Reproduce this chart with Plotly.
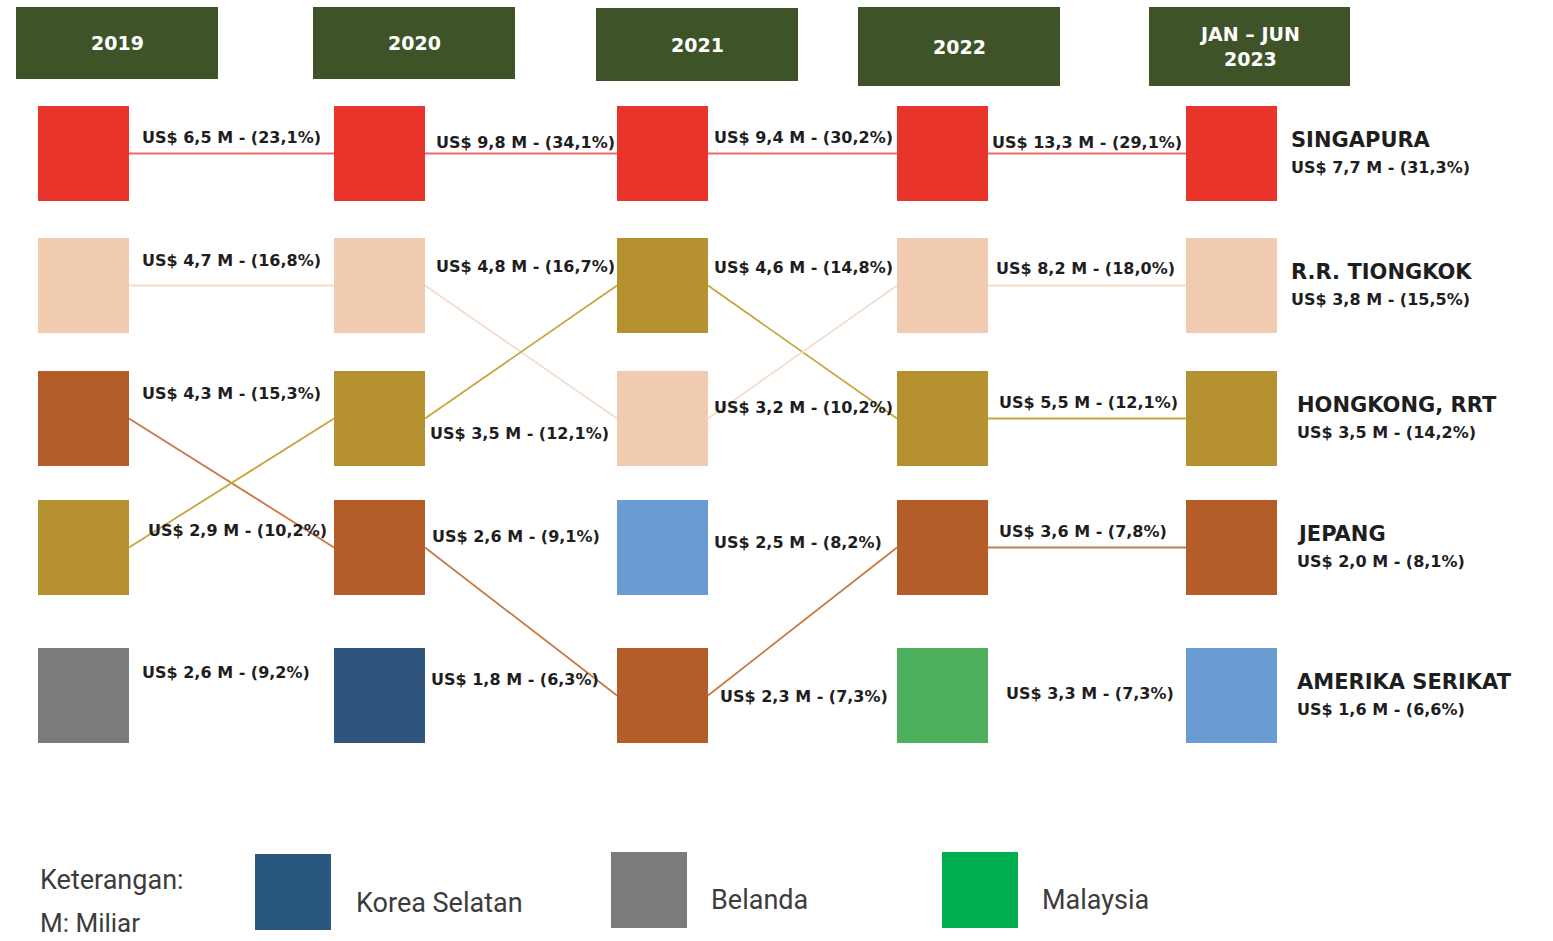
import plotly.graph_objects as go

# ---------------- data ----------------
periods = ["2019", "2020", "2021", "2022", "JAN – JUN<br>2023"]

countries_2019 = ["Singapura", "R.R. Tiongkok", "Jepang", "Hongkong, RRT", "Belanda"]
values_2019 = [6.5, 4.7, 4.3, 2.9, 2.6]
shares_2019 = [23.1, 16.8, 15.3, 10.2, 9.2]

countries_2020 = ["Singapura", "R.R. Tiongkok", "Hongkong, RRT", "Jepang", "Korea Selatan"]
values_2020 = [9.8, 4.8, 3.5, 2.6, 1.8]
shares_2020 = [34.1, 16.7, 12.1, 9.1, 6.3]

countries_2021 = ["Singapura", "Hongkong, RRT", "R.R. Tiongkok", "Amerika Serikat", "Jepang"]
values_2021 = [9.4, 4.6, 3.2, 2.5, 2.3]
shares_2021 = [30.2, 14.8, 10.2, 8.2, 7.3]

countries_2022 = ["Singapura", "R.R. Tiongkok", "Hongkong, RRT", "Jepang", "Malaysia"]
values_2022 = [13.3, 8.2, 5.5, 3.6, 3.3]
shares_2022 = [29.1, 18.0, 12.1, 7.8, 7.3]

countries_2023 = ["Singapura", "R.R. Tiongkok", "Hongkong, RRT", "Jepang", "Amerika Serikat"]
values_2023 = [7.7, 3.8, 3.5, 2.0, 1.6]
shares_2023 = [31.3, 15.5, 14.2, 8.1, 6.6]

legend_items = ["Korea Selatan", "Belanda", "Malaysia"]

# ---------------- styles ----------------
sq_colors = {
    "Singapura": "#E8342A",
    "R.R. Tiongkok": "#F0CBB0",
    "Hongkong, RRT": "#B5912F",
    "Jepang": "#B55D28",
    "Belanda": "#7B7B7B",
    "Korea Selatan": "#30557C",
    "Amerika Serikat": "#6A9BD1",
    "Malaysia": "#4DAE5C",
}
line_colors = {
    "Singapura": "#EC6A62",
    "R.R. Tiongkok": "#F4DCCB",
    "Hongkong, RRT": "#C7A63E",
    "Jepang": "#C87A45",
}
legend_colors = {"Korea Selatan": "#2A5780", "Belanda": "#7A7B7A", "Malaysia": "#00B050"}

HEADER_BG = "#3E5428"
TEXT = "#1E1E1E"
NUM_FONT = "DejaVu Sans"

all_countries = [countries_2019, countries_2020, countries_2021, countries_2022, countries_2023]
all_values = [values_2019, values_2020, values_2021, values_2022, values_2023]
all_shares = [shares_2019, shares_2020, shares_2021, shares_2022, shares_2023]

# layout geometry (pixel space)
col_left = [38, 334, 617, 897, 1186]
row_top = [106, 238, 371, 500, 648]
SQ_W, SQ_H = 91, 95
header_box = [(16, 218, 7, 79), (313, 515, 7, 79), (596, 798, 8, 81), (858, 1060, 7, 86), (1149, 1350, 7, 86)]
label_dx = [[11, 11, 11, 17, 11], [9, 9, 3, 5, 4], [4, 4, 4, 4, 10], [2, 6, 9, 9, 16]]
label_dy = [[-16, -25, -25, -17, -23], [-11, -19, 15, -11, -16], [-16, -18, -11, -5, 1], [-11, -17, -16, -16, -2]]
name_dx = [12, 12, 18, 18, 18]


def fmt(v, s):
    return f"US$ {v:.1f} M - ({s:.1f}%)".replace(".", ",")


fig = go.Figure()
shapes = []
annotations = []

# connecting lines (drawn first, under squares)
for c in range(4):
    for r, name in enumerate(all_countries[c]):
        if name in all_countries[c + 1] and name in line_colors:
            r2 = all_countries[c + 1].index(name)
            x0 = col_left[c] + SQ_W
            y0 = row_top[r] + SQ_H / 2
            x1 = col_left[c + 1]
            y1 = row_top[r2] + SQ_H / 2
            fig.add_trace(go.Scatter(x=[x0, x1], y=[y0, y1], mode="lines",
                                     line=dict(color=line_colors[name], width=1.8),
                                     hoverinfo="skip", showlegend=False))

# squares
for c in range(5):
    for r, name in enumerate(all_countries[c]):
        shapes.append(dict(type="rect", xref="x", yref="y",
                           x0=col_left[c], x1=col_left[c] + SQ_W,
                           y0=row_top[r], y1=row_top[r] + SQ_H,
                           fillcolor=sq_colors[name], line=dict(width=0), layer="above"))

# value labels for columns 0-3
for c in range(4):
    for r in range(5):
        annotations.append(dict(
            x=col_left[c] + SQ_W + label_dx[c][r], y=row_top[r] + SQ_H / 2 + label_dy[c][r],
            xref="x", yref="y", xanchor="left", yanchor="middle", showarrow=False,
            text=f"<b>{fmt(all_values[c][r], all_shares[c][r])}</b>",
            font=dict(family=NUM_FONT, size=16, color=TEXT)))

# last column: country name + value
for r in range(5):
    cx = col_left[4] + SQ_W + name_dx[r]
    cy = row_top[r] + SQ_H / 2
    annotations.append(dict(x=cx, y=cy - 14, xref="x", yref="y", xanchor="left", yanchor="middle",
                            showarrow=False, text=f"<b>{countries_2023[r].upper()}</b>",
                            font=dict(family=NUM_FONT, size=21, color=TEXT)))
    annotations.append(dict(x=cx, y=cy + 14, xref="x", yref="y", xanchor="left", yanchor="middle",
                            showarrow=False, text=f"<b>{fmt(values_2023[r], shares_2023[r])}</b>",
                            font=dict(family=NUM_FONT, size=16, color=TEXT)))

# headers
for (x0, x1, y0, y1), p in zip(header_box, periods):
    shapes.append(dict(type="rect", xref="x", yref="y", x0=x0, x1=x1, y0=y0, y1=y1,
                       fillcolor=HEADER_BG, line=dict(width=0)))
    annotations.append(dict(x=(x0 + x1) / 2, y=(y0 + y1) / 2, xref="x", yref="y",
                            xanchor="center", yanchor="middle", showarrow=False,
                            text=f"<b>{p}</b>",
                            font=dict(family=NUM_FONT, size=19, color="white")))

# legend area
annotations.append(dict(x=38, y=880, xref="x", yref="y", xanchor="left", yanchor="middle",
                        showarrow=False, text="Keterangan:",
                        font=dict(family="Roboto", size=27, color="#3C3C3C")))
annotations.append(dict(x=38, y=923, xref="x", yref="y", xanchor="left", yanchor="middle",
                        showarrow=False, text="M: Miliar",
                        font=dict(family="Roboto", size=26, color="#3C3C3C")))
legend_box = [(255, 854), (611, 852), (942, 852)]
legend_text_xy = [(354, 903), (709, 900), (1040, 900)]
for item, (bx, by), (tx, ty) in zip(legend_items, legend_box, legend_text_xy):
    shapes.append(dict(type="rect", xref="x", yref="y", x0=bx, x1=bx + 76, y0=by, y1=by + 76,
                       fillcolor=legend_colors[item], line=dict(width=0)))
    annotations.append(dict(x=tx, y=ty, xref="x", yref="y", xanchor="left", yanchor="middle",
                            showarrow=False, text=item,
                            font=dict(family="Roboto", size=27, color="#3C3C3C")))

fig.update_layout(
    width=1553, height=941,
    margin=dict(l=0, r=0, t=0, b=0),
    paper_bgcolor="white", plot_bgcolor="white",
    xaxis=dict(range=[0, 1553], visible=False, fixedrange=True),
    yaxis=dict(range=[941, 0], visible=False, fixedrange=True),
    shapes=shapes, annotations=annotations, showlegend=False,
)

fig.write_html("out.html", config={"displayModeBar": False})
